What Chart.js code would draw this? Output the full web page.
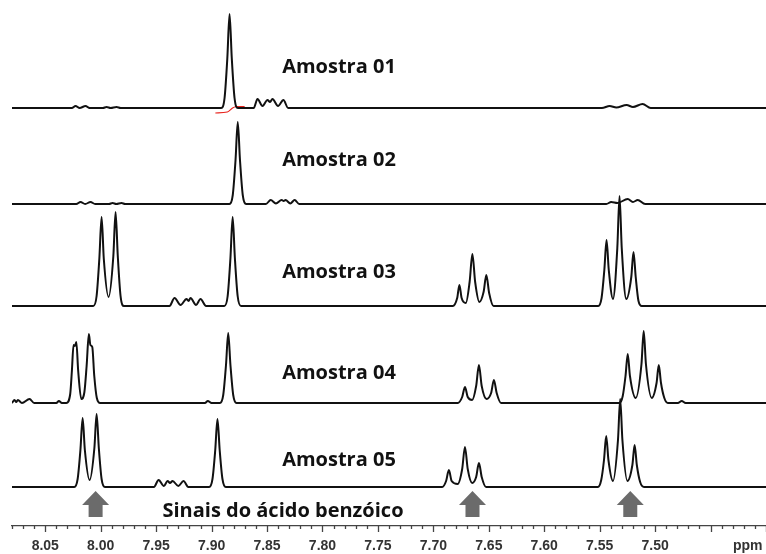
<!DOCTYPE html>
<html>
<head>
<meta charset="utf-8">
<script src="https://cdn.jsdelivr.net/npm/chart.js@4"></script>
<style>
  body { margin: 0; background: #fff; }
  #grafico { display: block; }
</style>
</head>
<body>
<div style="width:766px;height:554px"><canvas id="grafico"></canvas></div>
<script>
const ppmAmostra01 = [8.08, 8.026, 8.0227, 8.019, 8.0137, 8.010, 7.998, 7.9947, 7.991, 7.9857, 7.982,
    7.8913, 7.8883, 7.8858, 7.8838, 7.8818, 7.8793, 7.8763,
    7.862, 7.8586, 7.8541, 7.8496, 7.8473, 7.8451, 7.8401, 7.8352, 7.831,
    7.548, 7.5410, 7.535, 7.5257, 7.520, 7.5113, 7.504, 7.40];
const intAmostra01 = [0, 0, 2, 0, 2, 0, 0, 1, 0, 1, 0,
    0, 10, 50, 94, 50, 10, 0,
    0, 9, 2, 8, 6, 9, 2, 8, 0,
    0, 2, 0.5, 3, 1, 4, 0, 0];

const ppmAmostra02 = [8.08, 8.022, 8.0182, 8.014, 8.0092, 8.005, 7.9925, 7.9893, 7.986, 7.9812, 7.978,
    7.8839, 7.8809, 7.8784, 7.8764, 7.8744, 7.8719, 7.8689,
    7.851, 7.8467, 7.842, 7.8368, 7.835, 7.8333, 7.829, 7.8251, 7.821,
    7.544, 7.5396, 7.534, 7.5247, 7.520, 7.5157, 7.509, 7.40];
const intAmostra02 = [0, 0, 2, 0, 2, 0, 0, 1, 0, 1, 0,
    0, 9, 44, 82, 44, 9, 0,
    0, 4, 0.5, 4, 3, 4, 0.5, 4, 0,
    0, 2, 1, 5, 2, 4, 0, 0];

const ppmAmostra03 = [8.08, 8.0067, 8.0037, 8.0012, 7.9992, 7.9972, 7.9929, 7.9886, 7.9866, 7.9846, 7.9821, 7.979,
    7.938, 7.9334, 7.928, 7.9226, 7.9208, 7.919, 7.914, 7.910, 7.905,
    7.8885, 7.8855, 7.883, 7.881, 7.879, 7.8765, 7.8735,
    7.6825, 7.6785, 7.6765, 7.6745, 7.6707, 7.6673, 7.6648, 7.6623, 7.6585, 7.6547, 7.6522, 7.6497, 7.6457,
    7.5513, 7.5483, 7.5458, 7.5438, 7.5418, 7.538, 7.5341, 7.5321, 7.5301, 7.526, 7.5215, 7.5195, 7.5175, 7.515, 7.512, 7.40];
const intAmostra03 = [0, 0, 10, 48, 89, 47, 9, 50, 94, 50, 10, 0,
    0, 8, 1, 7, 5, 8, 1, 7, 0,
    0, 10, 48, 89, 48, 10, 0,
    0, 8, 21, 8, 3, 24, 52, 24, 4, 14, 31, 13, 0,
    0, 8, 36, 66, 36, 7, 58, 110, 58, 7, 29, 54, 29, 5, 0, 0];

const ppmAmostra04 = [8.08, 8.0777, 8.0762, 8.0747, 8.071, 8.0642, 8.060, 8.040, 8.0377, 8.035,
    8.031, 8.0275, 8.026, 8.0245, 8.0232, 8.022, 8.0203, 8.0175,
    8.0147, 8.0127, 8.0107, 8.0093, 8.0076, 8.0058, 8.0035, 8.0005,
    7.906, 7.9034, 7.900,
    7.8925, 7.8895, 7.887, 7.885, 7.883, 7.8805, 7.8775,
    7.678, 7.674, 7.6715, 7.669, 7.665, 7.6614, 7.6589, 7.6564, 7.652, 7.6479, 7.6454, 7.6429, 7.639,
    7.5322, 7.5292, 7.5267, 7.5247, 7.5227, 7.5175, 7.5123, 7.5103, 7.5083, 7.503, 7.4987, 7.4967, 7.4947, 7.4917, 7.4885,
    7.4795, 7.476, 7.4725, 7.40];
const intAmostra04 = [0, 3, 1, 3, 0, 4, 0, 0, 2, 0,
    0, 9, 32, 58, 57, 61, 32, 4,
    11, 37, 69, 58, 56, 27, 5, 0,
    0, 2, 0,
    0, 8, 38, 70, 38, 8, 0,
    0, 6, 16, 6, 3, 17, 38, 17, 4, 10, 23, 10, 0,
    0, 7, 27, 49, 27, 5, 39, 72, 39, 5, 20, 38, 20, 5, 0,
    0, 2, 0, 0];

const ppmAmostra05 = [8.08, 8.0238, 8.0208, 8.0183, 8.0163, 8.0143, 8.010, 8.0057, 8.0037, 8.0017, 7.9992, 7.9962,
    7.952, 7.9478, 7.943, 7.9397, 7.9375, 7.9352, 7.930, 7.9253, 7.921,
    7.9022, 7.8992, 7.8967, 7.8947, 7.8927, 7.8902, 7.8872,
    7.692, 7.6885, 7.686, 7.6835, 7.678, 7.674, 7.6715, 7.669, 7.665, 7.6614, 7.6589, 7.6564, 7.6525,
    7.5516, 7.5486, 7.5461, 7.5441, 7.5421, 7.538, 7.5335, 7.5315, 7.5295, 7.525, 7.5205, 7.5185, 7.5165, 7.5135, 7.510, 7.40];
const intAmostra05 = [0, 0, 8, 37, 69, 37, 7, 39, 73, 39, 8, 0,
    0, 7, 1, 6, 4, 6, 1, 6, 0,
    0, 8, 37, 68, 37, 8, 0,
    0, 6, 17, 6, 3, 18, 40, 18, 4, 10, 24, 10, 0,
    0, 7, 27, 51, 27, 6, 47, 88, 47, 6, 22, 42, 22, 5, 0, 0];

// curva de integral (vermelha) da amostra 01
const ppmIntegral = [7.8966, 7.8858, 7.8811, 7.8775, 7.8702];
const intIntegral = [-5, -4, 0, 1.5, 1.5];

const nomesAmostras = ['Amostra 01', 'Amostra 02', 'Amostra 03', 'Amostra 04', 'Amostra 05'];
const linhasBase = [418, 322, 220, 123, 39];
const alturaRotulos = [459, 366, 254, 153, 66];
const ppmRotulos = 7.7851;
const ppmSetas = [8.0046, 7.6647, 7.5224];
const textoSinais = 'Sinais do ácido benzóico';

const ppmAmostras = [ppmAmostra01, ppmAmostra02, ppmAmostra03, ppmAmostra04, ppmAmostra05];
const intAmostras = [intAmostra01, intAmostra02, intAmostra03, intAmostra04, intAmostra05];

function montarPontos(ppm, intensidade, base) {
    const pontos = [];
    for (let i = 0; i < ppm.length; i++) {
        pontos.push({ x: ppm[i], y: base + intensidade[i] });
    }
    return pontos;
}

const datasets = [];
for (let i = 0; i < ppmAmostras.length; i++) {
    datasets.push({
        label: nomesAmostras[i],
        data: montarPontos(ppmAmostras[i], intAmostras[i], linhasBase[i]),
        borderColor: '#111',
        borderWidth: 2,
        pointRadius: 0,
        cubicInterpolationMode: 'monotone',
        fill: false
    });
}
datasets.push({
    label: 'integral',
    data: montarPontos(ppmIntegral, intIntegral, linhasBase[0]),
    borderColor: '#e8221c',
    borderWidth: 1.2,
    pointRadius: 0,
    cubicInterpolationMode: 'monotone',
    fill: false
});

const anotacoes = {
    id: 'anotacoes',
    afterDraw(chart) {
        const ctx = chart.ctx;
        const x = chart.scales.x;
        const y = chart.scales.y;
        const eixoY = chart.chartArea.bottom;

        // marcas do eixo
        ctx.save();
        ctx.strokeStyle = '#444';
        ctx.lineWidth = 1.3;
        x.ticks.forEach(t => {
            const px = Math.round(x.getPixelForValue(t.value)) + 0.5;
            const maior = Math.round(t.value * 100) % 5 === 0;
            ctx.beginPath();
            ctx.moveTo(px, eixoY);
            ctx.lineTo(px, eixoY + (maior ? 6 : 3));
            ctx.stroke();
        });

        ctx.fillStyle = '#333';
        ctx.font = 'bold 14px "Liberation Sans", Arial, sans-serif';
        ctx.textAlign = 'center';
        ctx.textBaseline = 'middle';
        ctx.fillText('ppm', x.getPixelForValue(7.4165), 546);

        ctx.fillStyle = '#111';
        ctx.font = 'bold 20px "Open Sans", sans-serif';
        for (let i = 0; i < nomesAmostras.length; i++) {
            ctx.fillText(nomesAmostras[i], x.getPixelForValue(ppmRotulos), y.getPixelForValue(alturaRotulos[i]));
        }
        ctx.fillText(textoSinais, x.getPixelForValue(7.8356), y.getPixelForValue(15));

        // setas cinzas
        ctx.fillStyle = '#6b6b6b';
        ppmSetas.forEach(p => {
            const cx = x.getPixelForValue(p);
            const topo = y.getPixelForValue(35);
            const cabeca = y.getPixelForValue(21);
            const fundo = y.getPixelForValue(9);
            ctx.beginPath();
            ctx.moveTo(cx, topo);
            ctx.lineTo(cx + 13.5, cabeca);
            ctx.lineTo(cx + 7, cabeca);
            ctx.lineTo(cx + 7, fundo);
            ctx.lineTo(cx - 7, fundo);
            ctx.lineTo(cx - 7, cabeca);
            ctx.lineTo(cx - 13.5, cabeca);
            ctx.closePath();
            ctx.fill();
        });
        ctx.restore();
    }
};

new Chart(document.getElementById('grafico'), {
    type: 'line',
    data: { datasets: datasets },
    options: {
        responsive: true,
        maintainAspectRatio: false,
        animation: false,
        layout: { autoPadding: false, padding: { left: 12, right: 0, top: 0, bottom: 0 } },
        plugins: {
            legend: { display: false },
            tooltip: { enabled: false }
        },
        scales: {
            x: {
                type: 'linear',
                reverse: true,
                min: 7.40,
                max: 8.08,
                grid: { display: false, drawTicks: false },
                border: { display: true, color: '#444', width: 1.3 },
                afterFit: function (escala) {
                    escala.height = 28;
                    escala.paddingLeft = 0;
                    escala.paddingRight = 0;
                },
                ticks: {
                    stepSize: 0.01,
                    maxTicksLimit: 100,
                    autoSkip: false,
                    maxRotation: 0,
                    padding: 12,
                    color: '#333',
                    font: { family: '"Liberation Sans", Arial, sans-serif', size: 14, weight: 'bold', lineHeight: 1.1 },
                    callback: function (valor) {
                        const centesimos = Math.round(valor * 100);
                        if (centesimos % 5 === 0 && centesimos >= 750 && centesimos <= 805) {
                            return (centesimos / 100).toFixed(2);
                        }
                        return '';
                    }
                }
            },
            y: {
                display: false,
                min: 0,
                max: 526
            }
        }
    },
    plugins: [anotacoes]
});
</script>
</body>
</html>
